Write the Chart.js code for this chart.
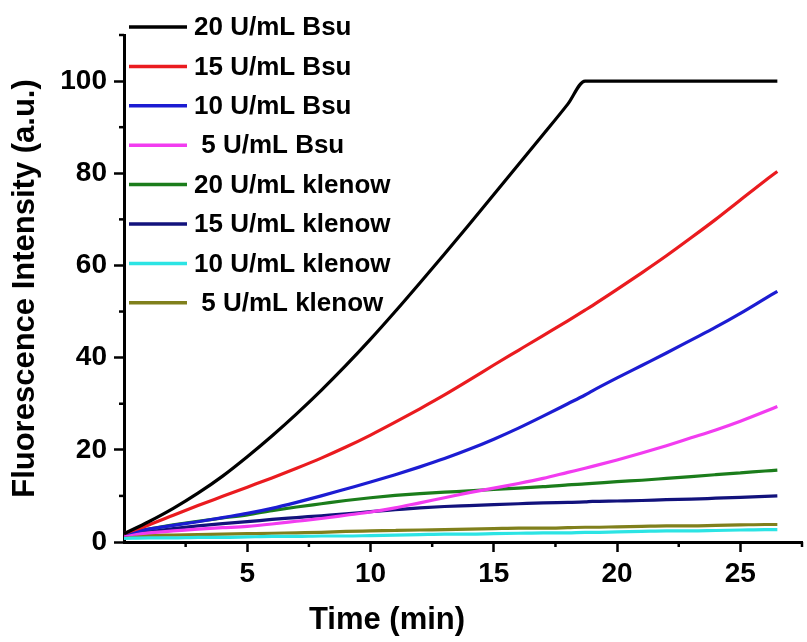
<!DOCTYPE html>
<html>
<head>
<meta charset="utf-8">
<script src="https://cdn.jsdelivr.net/npm/chart.js@4.4.1/dist/chart.umd.min.js"></script>
<style>
  html, body { margin: 0; padding: 0; background: #fff; }
</style>
</head>
<body>
<canvas id="chart" width="807" height="642"></canvas>
<script>
// ===== DATA =====
const times = [0, 1, 2, 3, 4, 5, 6, 7, 8, 9, 10, 11, 12, 13, 14, 15, 16, 17, 18, 18.7, 19, 20, 21, 22, 23, 24, 25, 26, 26.5];

const bsu20 = [1.8, 4.4, 7.3, 10.6, 14.3, 18.5, 23.0, 27.8, 32.9, 38.3, 44.0, 50.0, 56.2, 62.5, 68.9, 75.4, 81.9, 88.4, 95.0, 100, 100, 100, 100, 100, 100, 100, 100, 100, 100];
const bsu15 = [1.8, 3.7, 5.8, 7.9, 9.9, 11.9, 13.9, 16.0, 18.2, 20.6, 23.2, 26.0, 28.9, 31.9, 35.1, 38.4, 41.6, 44.8, 48.0, 50.3, 51.3, 54.8, 58.4, 62.1, 66.0, 70.0, 74.2, 78.4, 80.4];
const bsu10 = [1.8, 2.8, 3.6, 4.4, 5.3, 6.2, 7.3, 8.6, 10.0, 11.5, 13.0, 14.6, 16.3, 18.1, 20.1, 22.3, 24.7, 27.3, 30.0, 31.9, 32.8, 35.6, 38.3, 41.0, 43.8, 46.6, 49.6, 52.8, 54.4];
const bsu5 = [1.5, 2.0, 2.4, 2.8, 3.1, 3.4, 3.9, 4.5, 5.1, 5.8, 6.5, 7.4, 8.5, 9.6, 10.7, 11.7, 12.7, 13.8, 15.1, 16.0, 16.4, 17.8, 19.3, 20.9, 22.6, 24.3, 26.2, 28.3, 29.4];
const klenow20 = [1.8, 2.8, 3.7, 4.5, 5.2, 5.9, 6.8, 7.6, 8.3, 9.0, 9.6, 10.1, 10.5, 10.8, 11.1, 11.4, 11.7, 12.0, 12.4, 12.6, 12.7, 13.1, 13.4, 13.8, 14.2, 14.6, 15.0, 15.4, 15.6];
const klenow15 = [1.5, 2.2, 2.9, 3.5, 4.0, 4.4, 4.9, 5.3, 5.7, 6.1, 6.6, 7.0, 7.4, 7.7, 7.9, 8.1, 8.3, 8.5, 8.6, 8.7, 8.8, 8.9, 9.0, 9.2, 9.3, 9.5, 9.7, 9.9, 10.0];
const klenow10 = [0.8, 0.9, 0.9, 1.0, 1.0, 1.1, 1.2, 1.2, 1.3, 1.3, 1.4, 1.5, 1.6, 1.7, 1.7, 1.8, 1.9, 2.0, 2.0, 2.1, 2.1, 2.2, 2.3, 2.4, 2.4, 2.5, 2.6, 2.7, 2.7];
const klenow5 = [1.2, 1.4, 1.5, 1.6, 1.7, 1.8, 1.9, 2.0, 2.1, 2.3, 2.4, 2.5, 2.6, 2.7, 2.8, 2.9, 3.0, 3.0, 3.1, 3.2, 3.2, 3.3, 3.4, 3.5, 3.5, 3.6, 3.7, 3.8, 3.8];

const seriesLabels = ["20 U/mL Bsu", "15 U/mL Bsu", "10 U/mL Bsu", " 5 U/mL Bsu",
                      "20 U/mL klenow", "15 U/mL klenow", "10 U/mL klenow", " 5 U/mL klenow"];
const seriesValues = [bsu20, bsu15, bsu10, bsu5, klenow20, klenow15, klenow10, klenow5];

const xTitle = "Time (min)";
const yTitle = "Fluorescence Intensity (a.u.)";

// styles
const seriesColors = ["#000000", "#ea1b1f", "#1c1cd2", "#f23cf0", "#1b7d1b", "#12127c", "#2ce4e4", "#80801c"];
const FONT = "'Liberation Sans', Arial, sans-serif";

// ===== PLUGIN: minor ticks, legend, x title =====
const extras = {
  id: "extras",
  afterDraw(chart) {
    const ctx = chart.ctx;
    const xs = chart.scales.x;
    const ys = chart.scales.y;
    const area = chart.chartArea;

    ctx.save();
    ctx.strokeStyle = "#000";
    ctx.lineWidth = 2.5;

    // minor ticks
    xs.ticks.forEach(t => {
      if (t.value % 5 !== 0) {
        const px = xs.getPixelForValue(t.value);
        ctx.beginPath();
        ctx.moveTo(px, area.bottom);
        ctx.lineTo(px, area.bottom + 5);
        ctx.stroke();
      }
    });
    ys.ticks.forEach(t => {
      if (t.value % 20 !== 0) {
        const py = ys.getPixelForValue(t.value);
        ctx.beginPath();
        ctx.moveTo(area.left, py);
        ctx.lineTo(area.left - 5, py);
        ctx.stroke();
      }
    });

    // legend
    ctx.font = "bold 26px " + FONT;
    ctx.textBaseline = "middle";
    ctx.textAlign = "left";
    chart.data.datasets.forEach((ds, i) => {
      const y = 27 + i * 39.4;
      ctx.strokeStyle = ds.borderColor;
      ctx.lineWidth = 3.5;
      ctx.beginPath();
      ctx.moveTo(129, y);
      ctx.lineTo(187, y);
      ctx.stroke();
      ctx.fillStyle = "#000";
      ctx.fillText(ds.label, 194, y + 1);
    });

    // x title
    ctx.font = "bold 31px " + FONT;
    ctx.textAlign = "center";
    ctx.textBaseline = "alphabetic";
    ctx.fillText(xTitle, 387, 629);
    ctx.restore();
  }
};

const datasets = seriesValues.map((vals, i) => ({
  label: seriesLabels[i],
  data: times.map((t, j) => ({ x: t, y: vals[j] })),
  borderColor: seriesColors[i],
  borderWidth: 3.2,
  pointRadius: 0,
  cubicInterpolationMode: "monotone",
  fill: false
}));

new Chart(document.getElementById("chart"), {
  type: "line",
  data: { datasets },
  plugins: [extras],
  options: {
    responsive: false,
    animation: false,
    layout: { padding: { top: 35, right: 4, left: 0, bottom: 0 } },
    plugins: {
      legend: { display: false },
      tooltip: { enabled: false }
    },
    scales: {
      x: {
        type: "linear",
        min: 0,
        max: 27.5,
        afterFit: scale => { scale.height = 100; },
        border: { display: true, color: "#000", width: 3 },
        grid: {
          drawOnChartArea: false,
          drawTicks: true,
          tickLength: 10,
          tickWidth: 2.5,
          tickColor: c => (c.tick && c.tick.value % 5 === 0 && c.tick.value !== 0) ? "#000" : "rgba(0,0,0,0)"
        },
        ticks: {
          stepSize: 2.5,
          autoSkip: false,
          maxRotation: 0,
          padding: 5,
          color: "#000",
          font: { family: FONT, size: 28, weight: "bold" },
          callback: v => (v % 5 === 0 && v !== 0) ? v : ""
        }
      },
      y: {
        min: 0,
        max: 110,
        afterFit: scale => { scale.width = 124; },
        border: { display: true, color: "#000", width: 3 },
        grid: {
          drawOnChartArea: false,
          drawTicks: true,
          tickLength: 10,
          tickWidth: 2.5,
          tickColor: c => (c.tick && c.tick.value % 20 === 0) ? "#000" : "rgba(0,0,0,0)"
        },
        ticks: {
          stepSize: 10,
          autoSkip: false,
          padding: 7,
          color: "#000",
          font: { family: FONT, size: 28, weight: "bold" },
          callback: v => v % 20 === 0 ? v : ""
        },
        title: {
          display: true,
          text: yTitle,
          color: "#000",
          font: { family: FONT, size: 31, weight: "bold" },
          padding: { top: 7, bottom: 0 }
        }
      }
    }
  }
});
</script>
</body>
</html>
